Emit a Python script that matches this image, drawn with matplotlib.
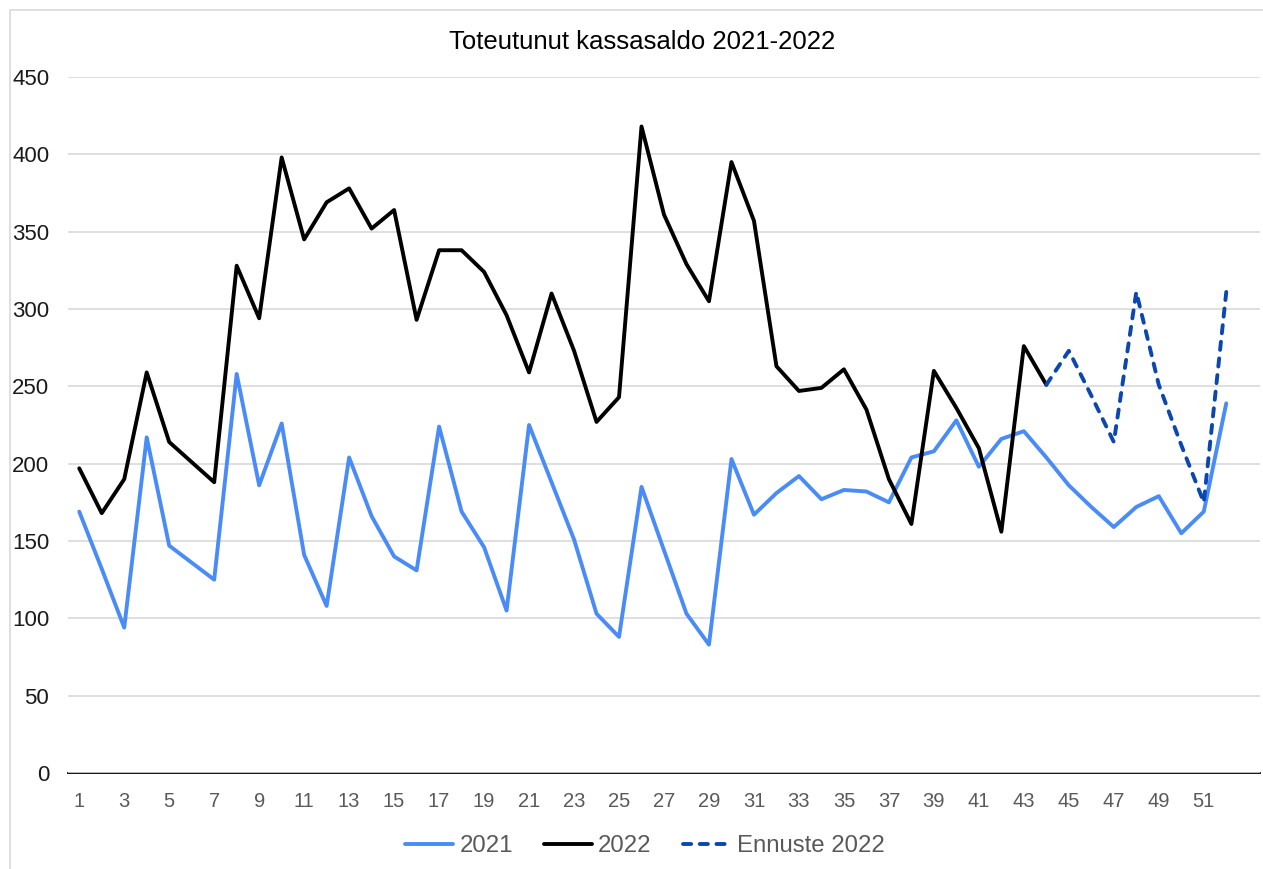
import matplotlib

matplotlib.use("Agg")

import matplotlib.pyplot as plt
from matplotlib.patches import Rectangle

plt.rcParams["font.family"] = ["Liberation Sans", "DejaVu Sans"]

weeks = list(range(1, 53))

saldo_2021 = [
    169, 132, 94, 217, 147, 136, 125, 258, 186, 226,
    141, 108, 204, 166, 140, 131, 224, 169, 146, 105,
    225, 188, 151, 103, 88, 185, 144, 103, 83, 203,
    167, 181, 192, 177, 183, 182, 175, 204, 208, 228,
    198, 216, 221, 204, 186, 172, 159, 172, 179, 155,
    169, 239,
]

saldo_2022 = [
    197, 168, 190, 259, 214, 201, 188, 328, 294, 398,
    345, 369, 378, 352, 364, 293, 338, 338, 324, 296,
    259, 310, 273, 227, 243, 418, 361, 329, 305, 395,
    357, 263, 247, 249, 261, 235, 190, 161, 260, 236,
    210, 156, 276, 251,
]

# ennuste alkaa viikolta 44 (sama piste kuin toteutunut)
ennuste_weeks = list(range(44, 53))
ennuste_2022 = [251, 273, 244, 214, 311, 251, 212, 175, 311]

y_ticks = [0, 50, 100, 150, 200, 250, 300, 350, 400, 450]
x_ticks = list(range(1, 52, 2))

BLUE = "#4a8cf7"
BLACK = "#000000"
DARK_BLUE = "#0a47b0"
GRID = "#d9d9d9"
TEXT_GREY = "#595959"

W, H = 1263, 869
fig = plt.figure(figsize=(W / 100, H / 100), dpi=100)
fig.patches.append(
    Rectangle((10 / W, -0.1), 2, 1.1 - 10 / H, transform=fig.transFigure,
              fill=False, edgecolor=GRID, linewidth=1.2)
)

ax = fig.add_axes([68 / W, 1 - 773 / H, (1260 - 68) / W, (773 - 77) / H])

ax.plot(weeks, saldo_2021, color=BLUE, lw=2.8, label="2021",
        solid_joinstyle="round", solid_capstyle="round")
ax.plot(weeks[:len(saldo_2022)], saldo_2022, color=BLACK, lw=2.8, label="2022",
        solid_joinstyle="round", solid_capstyle="round")
ax.plot(ennuste_weeks, ennuste_2022, color=DARK_BLUE, lw=2.8, label="Ennuste 2022",
        dashes=(2.1, 2.2), dash_capstyle="round", dash_joinstyle="round")

ax.set_xlim(0.5, 53.5)
ax.set_ylim(0, 450)
ax.set_yticks(y_ticks)
ax.set_xticks(x_ticks)
ax.grid(True, axis="y", color=GRID, lw=1.2)
ax.set_axisbelow(True)
for side in ["top", "right", "left"]:
    ax.spines[side].set_visible(False)
ax.spines["bottom"].set_color("#000000")
ax.spines["bottom"].set_linewidth(1.3)
ax.spines["bottom"].set_zorder(0.5)
ax.tick_params(axis="y", length=0, pad=13.5, labelsize=16, labelcolor="#1a1a1a")
ax.tick_params(axis="x", length=0, pad=14, labelsize=14.5, labelcolor=TEXT_GREY)

fig.text(642 / W, 1 - 42 / H, "Toteutunut kassasaldo 2021-2022",
         ha="center", va="center", fontsize=18.5, color="#000000")

handles, labels = ax.get_legend_handles_labels()
leg = fig.legend(handles, labels, loc="center", bbox_to_anchor=(645 / W, 1 - 846 / H),
                 ncol=3, frameon=False, fontsize=17.3, handlelength=2.0,
                 handletextpad=0.25, columnspacing=1.3)
for t in leg.get_texts():
    t.set_color(TEXT_GREY)

fig.savefig("out.png", dpi=100)
